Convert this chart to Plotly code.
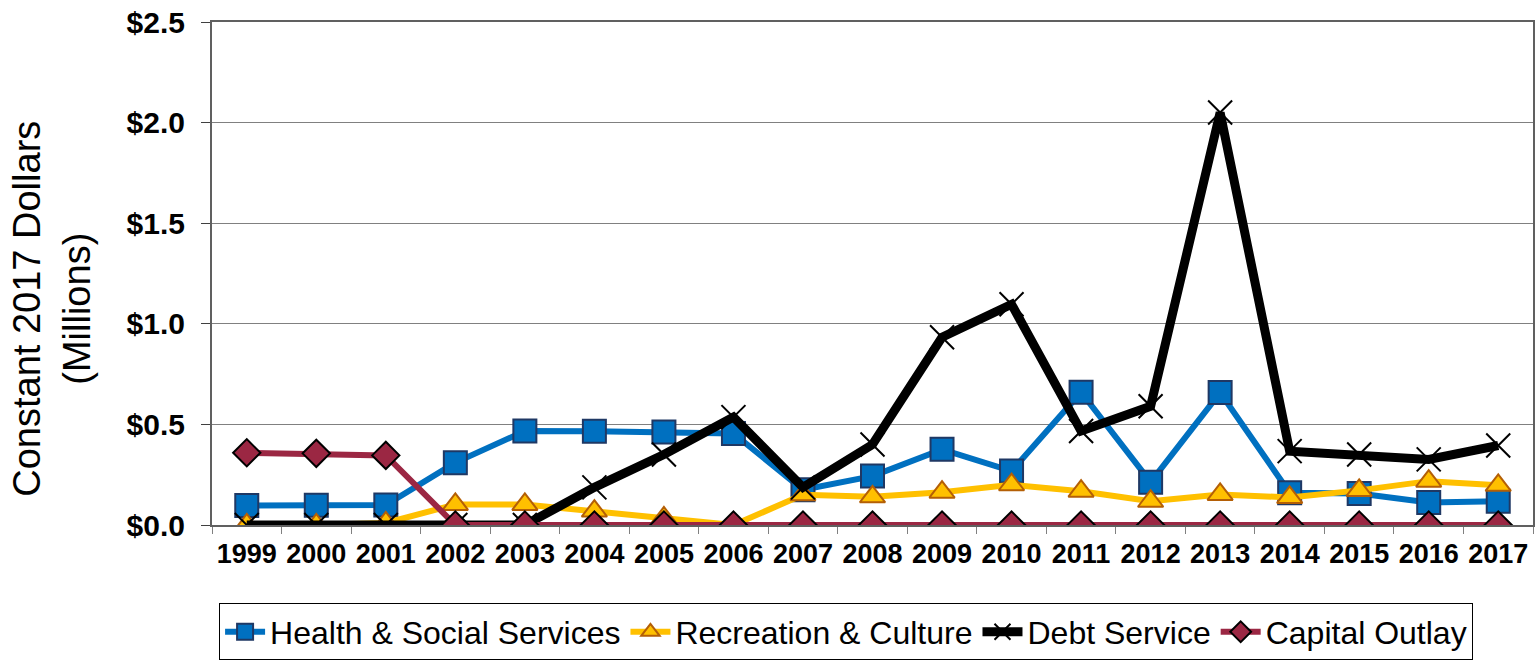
import plotly.graph_objects as go

years = [str(y) for y in range(1999, 2018)]
health = [0.097, 0.098, 0.099, 0.31, 0.467, 0.466, 0.462, 0.455, 0.175, 0.243, 0.376, 0.268,
          0.66, 0.213, 0.658, 0.16, 0.157, 0.112, 0.118]
recreation = [0.0, 0.0, 0.01, 0.102, 0.102, 0.069, 0.035, 0.0, 0.15, 0.14, 0.163, 0.2,
              0.168, 0.118, 0.152, 0.137, 0.172, 0.218, 0.197]
debt = [0.0, 0.0, 0.0, 0.0, 0.0, 0.187, 0.35, 0.536, 0.187, 0.40, 0.933, 1.097,
        0.467, 0.59, 2.05, 0.367, 0.35, 0.326, 0.395]
capital = [0.359, 0.356, 0.346, 0.0, 0.0, 0.0, 0.0, 0.0, 0.0, 0.0, 0.0, 0.0,
           0.0, 0.0, 0.0, 0.0, 0.0, 0.0, 0.0]
y_ticks = [0, 0.5, 1.0, 1.5, 2.0, 2.5]
y_labels = ["$0.0", "$0.5", "$1.0", "$1.5", "$2.0", "$2.5"]
y_title = "Constant 2017 Dollars<br>(Millions)"

FONT = "Liberation Sans, Arial, sans-serif"

fig = go.Figure()
fig.add_trace(go.Scatter(x=years, y=health, name="Health & Social Services", mode="lines+markers",
                         line=dict(color="#0070C0", width=6),
                         marker=dict(symbol="square", size=23, color="#0070C0",
                                     line=dict(color="#1F3864", width=2))))
fig.add_trace(go.Scatter(x=years, y=recreation, name="Recreation & Culture", mode="lines+markers",
                         line=dict(color="#FFC000", width=6),
                         marker=dict(symbol="triangle-up", size=22, color="#FFC000",
                                     line=dict(color="#B45F06", width=2))))
fig.add_trace(go.Scatter(x=years, y=debt, name="Debt Service", mode="lines+markers",
                         line=dict(color="#000000", width=9),
                         marker=dict(symbol="x-thin", size=24, color="#000000",
                                     line=dict(color="#000000", width=2))))
fig.add_trace(go.Scatter(x=years, y=capital, name="Capital Outlay", mode="lines+markers",
                         line=dict(color="#9B2743", width=6),
                         marker=dict(symbol="diamond", size=21, color="#9B2743",
                                     line=dict(color="#000000", width=2))))

fig.add_annotation(text=y_title, xref="paper", yref="paper", x=-0.1215, y=0.431,
                   xanchor="center", yanchor="middle", textangle=-90, showarrow=False,
                   font=dict(size=38, family=FONT, color="black"))

fig.update_layout(
    width=1536, height=670,
    margin=dict(l=212, r=3, t=22, b=145),
    paper_bgcolor="white", plot_bgcolor="white",
    font=dict(family=FONT, color="black"),
    showlegend=True,
    legend=dict(orientation="h", x=0.48, xanchor="center", y=-0.156, yanchor="top",
                bordercolor="black", borderwidth=1, bgcolor="white",
                font=dict(size=32, family=FONT), tracegroupgap=0, itemwidth=40),
    xaxis=dict(type="category", range=[-0.5, 18.5], showgrid=False, ticks="outside",
               tickson="boundaries", ticklen=7, tickcolor="#808080", showline=True,
               linecolor="#606060", linewidth=2, mirror=True, automargin=False,
               tickfont=dict(size=27, family=FONT), ticklabelstandoff=4,
               ticklabeloverflow="allow",
               tickprefix="<b>", ticksuffix="</b>"),
    yaxis=dict(range=[0, 2.5], tickvals=y_ticks, ticktext=["<b>%s</b>" % t for t in y_labels],
               showgrid=True, gridcolor="#808080", gridwidth=1, ticks="outside", ticklen=9,
               tickcolor="#404040", showline=True, linecolor="#606060", linewidth=2, mirror=True,
               tickfont=dict(size=30, family=FONT), zeroline=False, automargin=False,
               ticklabelstandoff=10, ticklabeloverflow="allow"),
)
fig.write_html("out.html", config={"displayModeBar": False},
               post_script="document.body.style.margin='0';")
